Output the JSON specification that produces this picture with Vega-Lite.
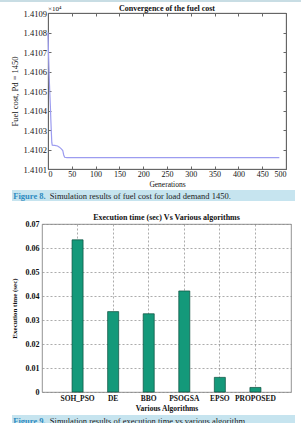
{
  "$schema": "https://vega.github.io/schema/vega-lite/v6.json",
  "padding": 0,
  "background": "white",
  "config": {
    "view": {"stroke": null},
    "font": "Liberation Serif",
    "axis": {"labelFont": "Liberation Serif", "titleFont": "Liberation Serif", "grid": false},
    "title": {"font": "Liberation Serif"},
    "text": {"font": "Liberation Serif"}
  },
  "columns": 1,
  "spacing": 2,
  "concat": [
    {
      "width": 301,
      "height": 2,
      "view": {"fill": "#c8dde4", "stroke": null},
      "data": {"values": []},
      "mark": "point",
      "encoding": {}
    },
    {
      "spacing": 0,
      "hconcat": [
        {"width": 10, "height": 1, "data": {"values": []}, "mark": "point", "encoding": {}},
        {
          "width": 238,
          "height": 156,
          "title": {"text": "Convergence of the fuel cost", "fontSize": 8, "fontWeight": "bold", "color": "#111", "offset": -8, "frame": "group"},
          "view": {"stroke": "#666", "strokeWidth": 0.8},
          "layer": [
            {
              "data": {"values": [
                {"generation": 0, "fuel_cost": 14108.0},
                {"generation": 1, "fuel_cost": 14107.0},
                {"generation": 2, "fuel_cost": 14106.2},
                {"generation": 3, "fuel_cost": 14105.4},
                {"generation": 4, "fuel_cost": 14104.8},
                {"generation": 5, "fuel_cost": 14104.2},
                {"generation": 6, "fuel_cost": 14103.5},
                {"generation": 7, "fuel_cost": 14102.9},
                {"generation": 8, "fuel_cost": 14102.35},
                {"generation": 9, "fuel_cost": 14102.22},
                {"generation": 14, "fuel_cost": 14102.21},
                {"generation": 20, "fuel_cost": 14102.18},
                {"generation": 24, "fuel_cost": 14102.12},
                {"generation": 28, "fuel_cost": 14102.03},
                {"generation": 31, "fuel_cost": 14101.95},
                {"generation": 33, "fuel_cost": 14101.72},
                {"generation": 35, "fuel_cost": 14101.6},
                {"generation": 40, "fuel_cost": 14101.58},
                {"generation": 100, "fuel_cost": 14101.58},
                {"generation": 300, "fuel_cost": 14101.58},
                {"generation": 486, "fuel_cost": 14101.58}
              ]},
              "mark": {"type": "line", "color": "#9c9cf0", "strokeWidth": 1.2},
              "encoding": {
                "x": {
                  "field": "generation", "type": "quantitative",
                  "scale": {"domain": [0, 500], "nice": false, "zero": false},
                  "axis": {
                    "orient": "bottom", "values": [0, 50, 100, 150, 200, 250, 300, 350, 400, 450, 500],
                    "format": "d", "labelFontSize": 8, "labelColor": "#111", "labelPadding": 4,
                    "tickSize": -3, "tickColor": "#666", "domainColor": "#666",
                    "title": "Generations", "titleFontSize": 7.5, "titleFontWeight": "normal", "titleColor": "#111", "titlePadding": 2
                  }
                },
                "y": {
                  "field": "fuel_cost", "type": "quantitative",
                  "scale": {"domain": [14101, 14109], "nice": false, "zero": false},
                  "axis": {
                    "orient": "left", "values": [14101, 14102, 14103, 14104, 14105, 14106, 14107, 14108, 14109],
                    "labelExpr": "format(datum.value / 10000, '.4f')",
                    "labelFontSize": 8.5, "labelColor": "#111", "labelPadding": 4.6,
                    "tickSize": -3, "tickColor": "#666", "domainColor": "#666",
                    "title": "Fuel cost, Pd = 1450", "titleFontSize": 8.5, "titleFontWeight": "normal", "titleColor": "#111",
                    "titlePadding": 2.3, "minExtent": 26, "maxExtent": 26
                  }
                }
              }
            },
            {
              "data": {"values": [{}]},
              "mark": {"type": "text", "text": "×10⁴", "align": "left", "baseline": "bottom", "fontSize": 7, "color": "#111", "dy": -1},
              "encoding": {
                "x": {
                  "datum": 0, "type": "quantitative",
                  "scale": {"domain": [0, 500], "nice": false, "zero": false},
                  "axis": {
                    "orient": "top", "values": [0, 50, 100, 150, 200, 250, 300, 350, 400, 450, 500],
                    "labels": false, "tickSize": -3, "tickColor": "#666", "domainColor": "#666", "title": null,
                    "minExtent": 0, "maxExtent": 0
                  }
                },
                "y": {
                  "datum": 14109, "type": "quantitative",
                  "scale": {"domain": [14101, 14109], "nice": false, "zero": false},
                  "axis": {
                    "orient": "right", "values": [14101, 14102, 14103, 14104, 14105, 14106, 14107, 14108, 14109],
                    "labels": false, "tickSize": -3, "tickColor": "#666", "domainColor": "#666", "title": null,
                    "minExtent": 0, "maxExtent": 0
                  }
                }
              }
            }
          ],
          "resolve": {"axis": {"x": "independent", "y": "independent"}}
        }
      ]
    },
    {
      "spacing": 0,
      "hconcat": [
        {"width": 12, "height": 1, "data": {"values": []}, "mark": "point", "encoding": {}},
        {
          "width": 283,
          "height": 11,
          "view": {"fill": "#c6e4ef", "stroke": null},
          "data": {"values": [{"label": "Figure 8.", "caption": "Simulation results of fuel cost for load demand 1450."}]},
          "layer": [
            {
              "mark": {"type": "text", "align": "left", "baseline": "middle", "fontSize": 8.5, "fontWeight": "bold", "color": "#2e8bc0", "dx": 1.3},
              "encoding": {
                "text": {"field": "label"},
                "x": {"datum": 0, "type": "quantitative", "scale": {"domain": [0, 1]},
                      "axis": {"orient": "bottom", "domain": false, "ticks": false, "labels": false, "grid": false, "title": null, "minExtent": 10, "maxExtent": 10}},
                "y": {"datum": 0.5, "type": "quantitative", "scale": {"domain": [0, 1]}, "axis": null}
              }
            },
            {
              "mark": {"type": "text", "align": "left", "baseline": "middle", "fontSize": 8.5, "color": "#222", "dx": 37.8},
              "encoding": {
                "text": {"field": "caption"},
                "x": {"datum": 0, "type": "quantitative", "scale": {"domain": [0, 1]}},
                "y": {"datum": 0.5, "type": "quantitative", "scale": {"domain": [0, 1]}, "axis": null}
              }
            }
          ]
        }
      ]
    },
    {
      "spacing": 0,
      "hconcat": [
        {"width": 10, "height": 1, "data": {"values": []}, "mark": "point", "encoding": {}},
        {
          "width": 249,
          "height": 168,
          "title": {"text": "Execution time (sec) Vs Various algorithms", "fontSize": 8, "fontWeight": "bold", "color": "#111", "offset": -2, "frame": "group"},
          "view": {"stroke": "#777", "strokeWidth": 0.8},
          "data": {"values": [
            {"algorithm": "SOH_PSO", "execution_time": 0.0634},
            {"algorithm": "DE", "execution_time": 0.0335},
            {"algorithm": "BBO", "execution_time": 0.0326},
            {"algorithm": "PSOGSA", "execution_time": 0.0421},
            {"algorithm": "EPSO", "execution_time": 0.0061},
            {"algorithm": "PROPOSED", "execution_time": 0.0019}
          ]},
          "mark": {"type": "bar", "color": "#14997a", "stroke": "#0b4f3e", "strokeWidth": 0.7},
          "encoding": {
            "x": {
              "field": "algorithm", "type": "nominal", "sort": null,
              "scale": {"paddingInner": 0.69, "paddingOuter": 0.845},
              "axis": {
                "labelAngle": 0, "labelFontSize": 7.5, "labelFontWeight": "bold", "labelColor": "#111", "labelPadding": 2,
                "ticks": false, "domain": false, "grid": true, "gridDash": [2, 2], "gridColor": "#888", "gridWidth": 0.7,
                "bandPosition": 0.5,
                "title": "Various Algorithms", "titleFontSize": 7.5, "titleFontWeight": "bold", "titleColor": "#111", "titlePadding": 3
              }
            },
            "y": {
              "field": "execution_time", "type": "quantitative",
              "scale": {"domain": [0, 0.07], "nice": false},
              "axis": {
                "values": [0, 0.01, 0.02, 0.03, 0.04, 0.05, 0.06, 0.07], "format": ".2~f",
                "labelFontSize": 8, "labelFontWeight": "bold", "labelColor": "#111", "labelPadding": 3,
                "ticks": false, "domain": false, "grid": true, "gridDash": [2, 2], "gridColor": "#888", "gridWidth": 0.7,
                "title": "Execution time (sec)", "titleFontSize": 7, "titleFontWeight": "bold", "titleColor": "#111",
                "titlePadding": 2.3, "minExtent": 22, "maxExtent": 22
              }
            }
          }
        }
      ]
    },
    {
      "spacing": 0,
      "hconcat": [
        {"width": 12, "height": 1, "data": {"values": []}, "mark": "point", "encoding": {}},
        {
          "width": 283,
          "height": 11,
          "view": {"fill": "#c6e4ef", "stroke": null},
          "data": {"values": [{"label": "Figure 9.", "caption": "Simulation results of execution time vs various algorithm."}]},
          "layer": [
            {
              "mark": {"type": "text", "align": "left", "baseline": "middle", "fontSize": 8.5, "fontWeight": "bold", "color": "#2e8bc0", "dx": 1.3},
              "encoding": {
                "text": {"field": "label"},
                "x": {"datum": 0, "type": "quantitative", "scale": {"domain": [0, 1]}, "axis": null},
                "y": {"datum": 0.5, "type": "quantitative", "scale": {"domain": [0, 1]}, "axis": null}
              }
            },
            {
              "mark": {"type": "text", "align": "left", "baseline": "middle", "fontSize": 8.5, "color": "#222", "dx": 37.8},
              "encoding": {
                "text": {"field": "caption"},
                "x": {"datum": 0, "type": "quantitative", "scale": {"domain": [0, 1]}},
                "y": {"datum": 0.5, "type": "quantitative", "scale": {"domain": [0, 1]}, "axis": null}
              }
            }
          ]
        }
      ]
    }
  ]
}
